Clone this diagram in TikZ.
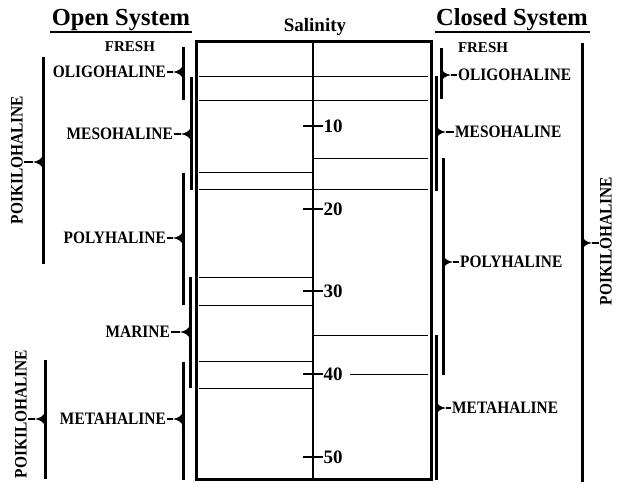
\documentclass[tikz,border=0pt]{standalone}
\usepackage{fontspec}
\setmainfont{Liberation Serif}
\newfontfamily\condfont[FakeStretch=0.88]{Liberation Serif}
\newcommand\tipleft[2]{\fill (#1,#2-8) .. controls (#1-1.2,#2-2.8) and (#1-4,#2-1.4) .. (#1-10,#2) .. controls (#1-4,#2+1.4) and (#1-1.2,#2+2.8) .. (#1,#2+8) -- cycle;}
\newcommand\tipright[2]{\fill (#1,#2-8) .. controls (#1+1.2,#2-2.8) and (#1+4,#2-1.4) .. (#1+10,#2) .. controls (#1+4,#2+1.4) and (#1+1.2,#2+2.8) .. (#1,#2+8) -- cycle;}
\tikzset{
  lbl/.style={font=\condfont\bfseries\fontsize{17.5}{17.5}\selectfont, inner sep=1pt},
  freshlbl/.style={font=\bfseries\fontsize{15}{15}\selectfont, inner sep=0pt},
  numlbl/.style={font=\bfseries\fontsize{19}{19}\selectfont, anchor=west, inner sep=0.5pt},
  titlelbl/.style={font=\bfseries\fontsize{24.5}{24.5}\selectfont, inner sep=0pt},
  brk/.style={line width=3pt},
  conn/.style={line width=1.6pt},
  thin/.style={line width=1pt},
  tick/.style={line width=1.8pt},
}
\begin{document}
\begin{tikzpicture}[x=1pt,y=-1pt]
\useasboundingbox (0,0) rectangle (617,486);
% titles
\node[titlelbl] (otitle) at (121,20) {Open System};
\draw[line width=1.4pt] (50,32) -- (192,32);
\node[titlelbl] (ctitle) at (512,20) {Closed System};
\draw[line width=1.4pt] (435,32) -- (590,32);
\node[font=\bfseries\fontsize{19}{19}\selectfont, inner sep=0pt] (sal) at (315,27) {Salinity};
% box
\draw[line width=3pt] (196,42) rectangle (431,479);
\draw[line width=2pt] (313,42) -- (313,479);
% horizontal lines full width
\foreach \yy in {77,101,190} \draw[thin] (199,\yy) -- (428,\yy);
% left half
\foreach \yy in {173,277,305,361,388} \draw[thin] (199,\yy) -- (312,\yy);
% right half
\foreach \yy in {159,335} \draw[thin] (314,\yy) -- (428,\yy);
\draw[thin] (350,374) -- (428,374);
% ticks
\foreach \yy/\v in {126/10,209/20,291/30,374/40,457/50}{
  \draw[tick] (303,\yy) -- (323,\yy);
  \node[numlbl] (n\v) at (323,\yy) {\v};
}
% ---------- Open system (left)
\node[freshlbl] (lfresh) at (130,47) {FRESH};
% oligohaline
\draw[brk] (183,47) -- (183,100); \tipleft{183}{72}
\coordinate (lt1) at (173,72);
\node[lbl, anchor=east] (loligo) at (167,72) {OLIGOHALINE};
\draw[conn] (loligo.east) -- (lt1);
% mesohaline
\draw[brk] (191,77) -- (191,190); \tipleft{191}{134}
\coordinate (lt2) at (181,134);
\node[lbl, anchor=east] (lmeso) at (174,134) {MESOHALINE};
\draw[conn] (lmeso.east) -- (lt2);
% polyhaline
\draw[brk] (183,173) -- (183,305); \tipleft{183}{238}
\coordinate (lt3) at (173,238);
\node[lbl, anchor=east] (lpoly) at (167,238) {POLYHALINE};
\draw[conn] (lpoly.east) -- (lt3);
% marine
\draw[brk] (190,277) -- (190,388); \tipleft{190}{332}
\coordinate (lt4) at (180,332);
\node[lbl, anchor=east] (lmarine) at (171,332) {MARINE};
\draw[conn] (lmarine.east) -- (lt4);
% metahaline
\draw[brk] (183,362) -- (183,480); \tipleft{183}{419}
\coordinate (lt5) at (173,419);
\node[lbl, anchor=east] (lmeta) at (167,419) {METAHALINE};
\draw[conn] (lmeta.east) -- (lt5);
% poikilohaline upper
\draw[brk] (43,57) -- (43,264); \tipleft{43}{162}
\coordinate (lt6) at (33,162);
\node[lbl, rotate=90] (lpoik1) at (17,160) {POIKILOHALINE};
\draw[conn] (lt6 -| lpoik1.south) -- (lt6);
% poikilohaline lower
\draw[brk] (45,360) -- (45,479); \tipleft{45}{419}
\coordinate (lt7) at (35,419);
\node[lbl, rotate=90] (lpoik2) at (21,414) {POIKILOHALINE};
\draw[conn] (lt7 -| lpoik2.south) -- (lt7);
% ---------- Closed system (right)
\node[freshlbl] (rfresh) at (483,48) {FRESH};
% oligohaline
\draw[brk] (441,48) -- (441,99); \tipright{441}{75}
\coordinate (rt1) at (451,75);
\node[lbl, anchor=west] (roligo) at (457,75) {OLIGOHALINE};
\draw[conn] (rt1) -- (roligo.west);
% mesohaline
\draw[brk] (436,76) -- (436,191); \tipright{436}{132}
\coordinate (rt2) at (446,132);
\node[lbl, anchor=west] (rmeso) at (454,132) {MESOHALINE};
\draw[conn] (rt2) -- (rmeso.west);
% polyhaline
\draw[brk] (443,158) -- (443,375); \tipright{443}{262}
\coordinate (rt3) at (453,262);
\node[lbl, anchor=west] (rpoly) at (459,262) {POLYHALINE};
\draw[conn] (rt3) -- (rpoly.west);
% metahaline
\draw[brk] (436,335) -- (436,480); \tipright{436}{408}
\coordinate (rt4) at (446,408);
\node[lbl, anchor=west] (rmeta) at (451,408) {METAHALINE};
\draw[conn] (rt4) -- (rmeta.west);
% poikilohaline
\draw[brk] (582,43) -- (582,482); \tipright{582}{243}
\coordinate (rt5) at (592,243);
\node[lbl, rotate=90] (rpoik) at (606,241) {POIKILOHALINE};
\draw[conn] (rt5) -- (rt5 -| rpoik.north);
\end{tikzpicture}
\end{document}
